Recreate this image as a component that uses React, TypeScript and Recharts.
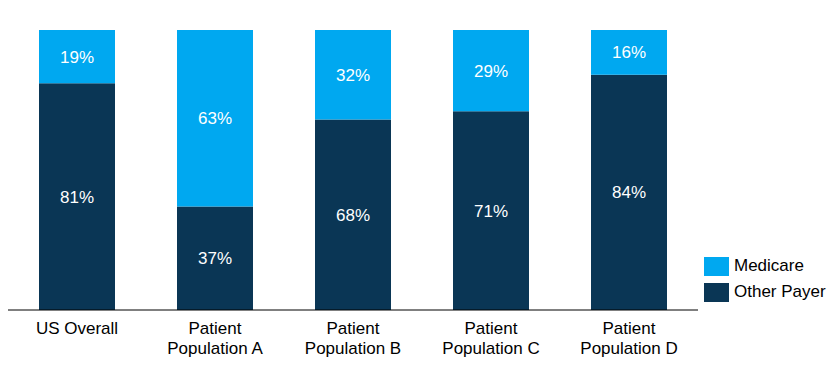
import React from 'react';
import { BarChart, Bar, XAxis, YAxis, LabelList } from 'recharts';

const categorias = ['US Overall', 'Patient\nPopulation A', 'Patient\nPopulation B', 'Patient\nPopulation C', 'Patient\nPopulation D'];
const outroPagador = [81, 37, 68, 71, 84];
const medicare = [19, 63, 32, 29, 16];

const COR_MEDICARE = '#00A8F0';
const COR_OUTRO = '#0A3655';
const FONTE = '"Liberation Sans", Arial, sans-serif';

const dados = categorias.map((c, i) => ({
  name: c,
  outro: outroPagador[i],
  medicare: medicare[i],
}));

// Rótulo do eixo em duas linhas
const TickCategoria = ({ x, y, payload }: any) => {
  const linhas = String(payload.value).split('\n');
  return (
    <text x={x} y={y} textAnchor="middle" fill="#000" fontSize={17} fontFamily={FONTE}>
      {linhas.map((l, i) => (
        <tspan key={i} x={x} dy={i === 0 ? 16 : 20}>{l}</tspan>
      ))}
    </text>
  );
};

const itensLegenda = [
  { nome: 'Medicare', cor: COR_MEDICARE },
  { nome: 'Other Payer', cor: COR_OUTRO },
];

export default function App() {
  return (
    <div style={{ position: 'absolute', left: 0, top: 0, width: 837, height: 369, background: '#fff' }}>
      <BarChart
        width={837}
        height={369}
        data={dados}
        margin={{ top: 30, left: 8, right: 139, bottom: 0 }}
        barSize={76}
      >
        <XAxis
          dataKey="name"
          height={59}
          tickLine={false}
          axisLine={{ stroke: '#000', strokeWidth: 1 }}
          tick={<TickCategoria />}
          interval={0}
        />
        <YAxis hide domain={[0, 100]} />
        <Bar dataKey="outro" stackId="a" fill={COR_OUTRO} isAnimationActive={false}>
          <LabelList dataKey="outro" position="center" fill="#fff" fontSize={17} fontFamily={FONTE} formatter={(v: any) => `${v}%`} />
        </Bar>
        <Bar dataKey="medicare" stackId="a" fill={COR_MEDICARE} isAnimationActive={false}>
          <LabelList dataKey="medicare" position="center" fill="#fff" fontSize={17} fontFamily={FONTE} formatter={(v: any) => `${v}%`} />
        </Bar>
      </BarChart>

      {/* Legenda */}
      <div style={{ position: 'absolute', left: 704, top: 253, fontFamily: FONTE, fontSize: 17, color: '#000' }}>
        {itensLegenda.map(item => (
          <div key={item.nome} style={{ display: 'flex', alignItems: 'center', height: 26 }}>
            <div style={{ width: 25, height: 19, backgroundColor: item.cor, marginRight: 5 }} />
            <span>{item.nome}</span>
          </div>
        ))}
      </div>
    </div>
  );
}
